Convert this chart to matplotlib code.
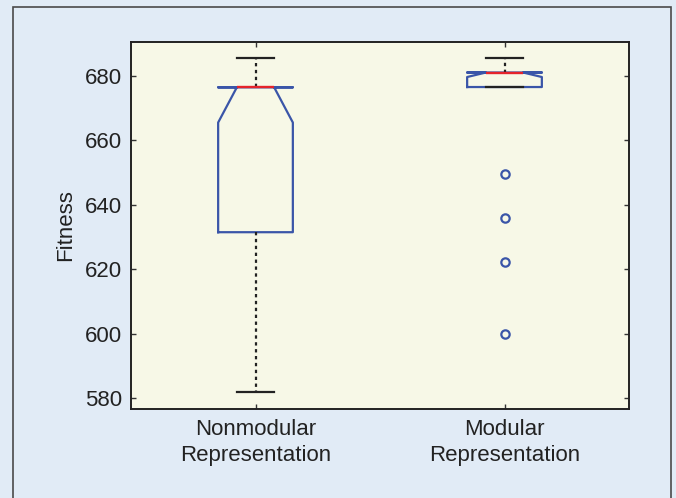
import matplotlib
matplotlib.use("Agg")
import matplotlib.pyplot as plt
from matplotlib.patches import Rectangle

# ---- data ----
categories = ["Nonmodular\nRepresentation", "Modular\nRepresentation"]
medians = [676.4, 681.0]
q1s = [631.5, 676.5]
q3s = [676.4, 681.0]
whisker_lo = [582.1, 676.5]
whisker_hi = [685.5, 685.5]
notch_lo = [665.5, 679.6]
notch_hi = [676.4, 681.0]
outliers_nonmodular = []
outliers_modular = [649.5, 635.9, 622.4, 600.0]
y_ticks = [580, 600, 620, 640, 660, 680]

plt.rcParams['font.family'] = ['Liberation Sans', 'DejaVu Sans']

fig = plt.figure(figsize=(6.76, 4.98), dpi=100)
fig.patch.set_facecolor('#e1ebf6')
ax = fig.add_axes([131/676, 1 - 409/498, (629-131)/676, (409-41.7)/498])
ax.set_facecolor('#f7f8e7')

# figure frame (left, top, right)
fig.add_artist(Rectangle((13/676, -0.05), (670.5-13)/676, 1.05 - 7/498,
                         transform=fig.transFigure, fill=False,
                         edgecolor='#4a4a4a', lw=1.2))

blue = '#3a55a8'
red = '#e5232b'
stats = []
fliers_all = [outliers_nonmodular, outliers_modular]
for i in range(2):
    stats.append(dict(med=medians[i], q1=q1s[i], q3=q3s[i],
                      whislo=whisker_lo[i], whishi=whisker_hi[i],
                      cilo=notch_lo[i], cihi=notch_hi[i],
                      fliers=fliers_all[i], label=categories[i]))

ax.bxp(stats, positions=[1, 2], widths=0.30, capwidths=0.15, shownotches=True,
       boxprops=dict(color=blue, lw=1.6),
       medianprops=dict(color=red, lw=1.7),
       whiskerprops=dict(color='#222222', lw=1.6, linestyle=(0, (1.5, 1.6))),
       capprops=dict(color='#222222', lw=1.6),
       flierprops=dict(marker='o', markerfacecolor='none', markeredgecolor=blue,
                       markersize=6, markeredgewidth=1.6, linestyle='none'))

ax.set_xlim(0.5, 2.5)
ax.set_ylim(576.7, 690.55)
ax.set_yticks(y_ticks)
ax.set_xticks([1, 2])
ax.set_xticklabels(categories, linespacing=1.28)
ax.tick_params(direction='in', length=3.6, width=1.0, color='#333333',
               labelsize=16, labelcolor='#222222', top=True, right=True)
ax.tick_params(axis='y', pad=6.5)
ax.tick_params(axis='x', pad=7.5)
ax.set_ylabel('Fitness', fontsize=16, color='#222222', labelpad=6)
for s in ax.spines.values():
    s.set_color('#222222')
    s.set_linewidth(1.4)

fig.savefig('out.png', dpi=100, facecolor=fig.get_facecolor())
